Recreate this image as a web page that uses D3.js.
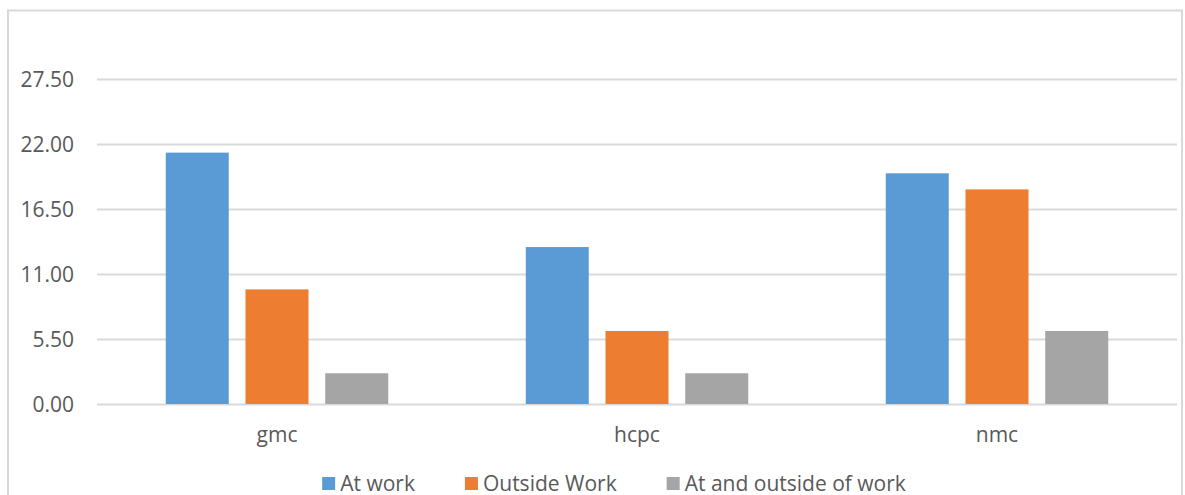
<!DOCTYPE html>
<html>
<head>
<meta charset="utf-8">
<script src="https://cdn.jsdelivr.net/npm/d3@7"></script>
<style>
  html, body { margin: 0; padding: 0; background: #fff; }
  svg { display: block; }
  text { font-family: "Open Sans", sans-serif; fill: #595959; }
</style>
</head>
<body>
<svg id="chart" width="1185" height="495"></svg>
<script>
const categories = ["gmc", "hcpc", "nmc"];
const seriesNames = ["At work", "Outside Work", "At and outside of work"];
const atWork = [21.27, 13.28, 19.52];
const outsideWork = [9.70, 6.18, 18.16];
const atAndOutside = [2.60, 2.60, 6.18];
const tickValues = [0, 5.5, 11, 16.5, 22, 27.5];
const colors = ["#5B9BD5", "#ED7D31", "#A5A5A5"];

const seriesValues = [atWork, outsideWork, atAndOutside];

const svg = d3.select("#chart");
const W = 1185, H = 495;
const plot = { left: 97, right: 1177, top: 79, bottom: 404 };

// chart border
svg.append("rect")
  .attr("x", 8).attr("y", 10.5)
  .attr("width", 1174).attr("height", 500)
  .attr("fill", "none").attr("stroke", "#d9d9d9").attr("stroke-width", 2);

const y = d3.scaleLinear().domain([0, 27.5]).range([plot.bottom, plot.top]);
const x0 = d3.scaleBand().domain(categories).range([plot.left, plot.right]).padding(0);
const catW = x0.bandwidth();
const x1 = d3.scaleBand().domain(seriesNames)
  .range([catW * 0.191, catW * 0.809]).paddingInner(0.21).paddingOuter(0);

// gridlines + tick labels
const yAxis = svg.append("g")
  .attr("transform", `translate(${plot.left},0)`)
  .call(d3.axisLeft(y).tickValues(tickValues).tickSize(-(plot.right - plot.left))
        .tickPadding(23).tickFormat(d3.format(".2f")));
yAxis.select(".domain").remove();
yAxis.selectAll(".tick line").attr("stroke", "#d9d9d9").attr("stroke-width", 2);
yAxis.selectAll(".tick text")
  .style("font-family", "'Open Sans', sans-serif")
  .attr("font-size", 21).attr("fill", "#595959").attr("dy", "0.34em");

// bars
const groups = svg.append("g").selectAll("g")
  .data(categories)
  .join("g")
  .attr("transform", d => `translate(${x0(d)},0)`);

groups.selectAll("rect")
  .data((c, ci) => seriesNames.map((s, si) => ({ s, si, v: seriesValues[si][ci] })))
  .join("rect")
  .attr("x", d => x1(d.s))
  .attr("width", x1.bandwidth())
  .attr("y", d => y(d.v))
  .attr("height", d => y(0) - y(d.v))
  .attr("fill", d => colors[d.si]);

// category labels
svg.append("g").selectAll("text")
  .data(categories)
  .join("text")
  .attr("x", d => x0(d) + catW / 2)
  .attr("y", 442)
  .attr("text-anchor", "middle")
  .attr("font-size", 21)
  .text(d => d);

// legend
const legend = svg.append("g");
const items = legend.selectAll("g")
  .data(seriesNames)
  .join("g");
items.append("rect")
  .attr("width", 13).attr("height", 13)
  .attr("y", 477)
  .attr("fill", (d, i) => colors[i]);
items.append("text")
  .attr("x", 18)
  .attr("y", 491)
  .attr("font-size", 21)
  .text(d => d);

let widths = [];
items.each(function() {
  widths.push(18 + d3.select(this).select("text").node().getComputedTextLength());
});
const gap = 50;
const total = d3.sum(widths) + gap * (widths.length - 1);
let cx = 614 - total / 2;
items.each(function(d, i) {
  d3.select(this).attr("transform", `translate(${cx},0)`);
  cx += widths[i] + gap;
});
</script>
</body>
</html>
